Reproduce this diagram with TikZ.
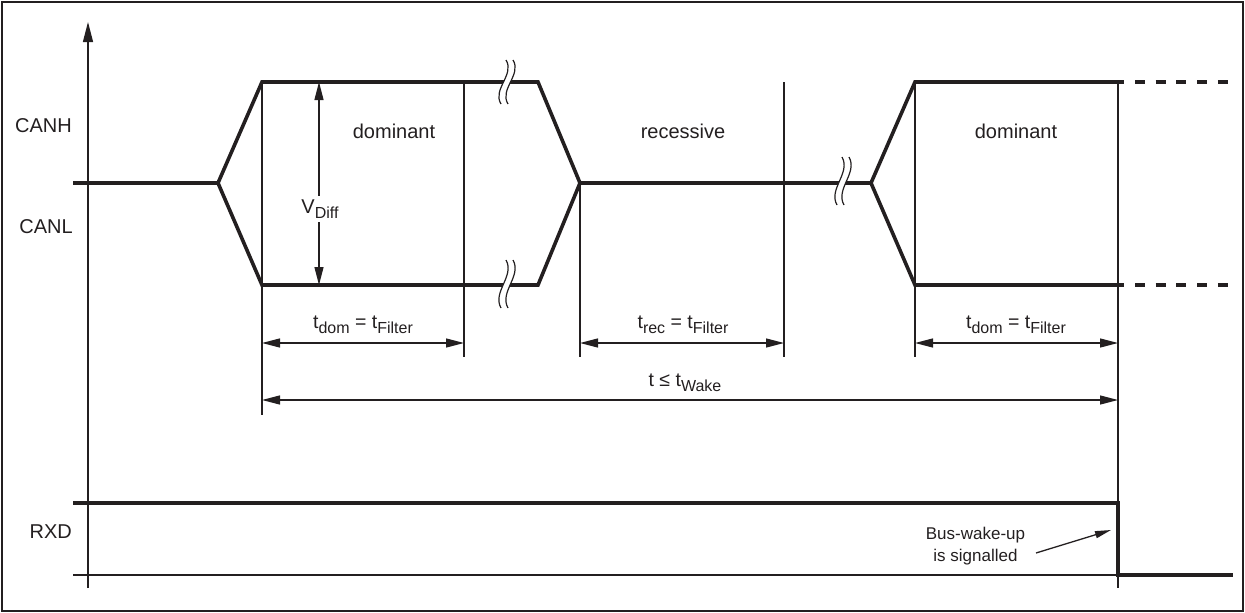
\documentclass[tikz,border=0pt]{standalone}
\usepackage{fontspec}
\setmainfont{Liberation Sans}
\usetikzlibrary{arrows.meta}
\definecolor{ink}{RGB}{35,31,32}
\newcommand\sbs[1]{\raisebox{-0.45ex}{\fontsize{16}{16}\selectfont #1}}
\newcommand\brkmark[3]{%
  \fill[white] ({#1-1},{#2-#3}) .. controls ({#1+8},{#2-#3/3}) and ({#1-15},{#2+#3/3}) .. ({#1-6},{#2+#3})
     -- ({#1+1},{#2+#3}) .. controls ({#1-8},{#2+#3/3}) and ({#1+15},{#2-#3/3}) .. ({#1+6},{#2-#3}) -- cycle;
  \draw[brk] ({#1-1},{#2-#3}) .. controls ({#1+8},{#2-#3/3}) and ({#1-15},{#2+#3/3}) .. ({#1-6},{#2+#3});
  \draw[brk] ({#1+6},{#2-#3}) .. controls ({#1+15},{#2-#3/3}) and ({#1-8},{#2+#3/3}) .. ({#1+1},{#2+#3});
}
\begin{document}
\begin{tikzpicture}[x=1pt,y=-1pt,
  sig/.style={line width=3.6pt, line join=miter, color=ink},
  thinln/.style={line width=1.3pt, color=ink},
  brk/.style={line width=1.2pt, color=ink},
  dim/.style={thinln, {Triangle[length=18pt,width=9pt]}-{Triangle[length=18pt,width=9pt]}},
  lbl/.style={font=\fontsize{20}{24}\selectfont, text=ink, inner sep=0pt},
  dlbl/.style={font=\fontsize{19.5}{22}\selectfont, text=ink, inner sep=0pt}]
\useasboundingbox (0,0) rectangle (1245,613);
\draw[line width=2pt, color=ink] (2,2) rectangle (1243,611);

% coordinates
\coordinate (axb) at (88,588);
\coordinate (axt) at (88,22);
\coordinate (s0) at (73,183);
\coordinate (j1) at (218,183);
\coordinate (h1) at (262,82);
\coordinate (l1) at (262,285);
\coordinate (h2) at (538,82);
\coordinate (l2) at (538,285);
\coordinate (j2) at (580,183);
\coordinate (j3) at (871,183);
\coordinate (h3) at (915,82);
\coordinate (l3) at (915,285);
\coordinate (h4) at (1118,82);
\coordinate (l4) at (1118,285);
\coordinate (h5) at (1114.3,82);
\coordinate (l5) at (1114.3,285);
\coordinate (h6) at (1228,82);
\coordinate (l6) at (1228,285);

% vertical guide lines
\coordinate (v1b) at (262,415);
\coordinate (v2t) at (464,82);   \coordinate (v2b) at (464,357);
\coordinate (v3b) at (580,357);
\coordinate (v4t) at (784,82);   \coordinate (v4b) at (784,357);
\coordinate (v5b) at (915,357);
\coordinate (v6b) at (1118,588);
\draw[thinln] (h1) -- (v1b);
\draw[thinln] (v2t) -- (v2b);
\draw[thinln] (j2) -- (v3b);
\draw[thinln] (v4t) -- (v4b);
\draw[thinln] (h3) -- (v5b);
\draw[thinln] (h4) -- (v6b);

% axis
\draw[thinln, -{Triangle[length=20pt,width=10pt]}] (axb) -- (axt);

% CAN signals
\draw[sig] (s0) -- (j1) -- (h1) -- (h2) -- (j2) -- (j3) -- (h3) -- (h4);
\draw[sig] (j1) -- (l1) -- (l2) -- (j2);
\draw[sig] (j3) -- (l3) -- (l4);
\draw[sig, dash pattern=on 10pt off 10.7pt] (h5) -- (h6);
\draw[sig, dash pattern=on 10pt off 10.7pt] (l5) -- (l6);

% breaks
\brkmark{507}{82}{22}
\brkmark{507}{284}{24}
\brkmark{843}{181}{24}

% V_Diff
\coordinate (vd1) at (319,82);
\coordinate (vd2) at (319,285);
\draw[dim] (vd1) -- (vd2);
\node[lbl, fill=white, inner sep=4pt] (vdiff) at (320,209) {V\sbs{Diff}};

% dimension arrows
\coordinate (d1a) at (262,343); \coordinate (d1b) at (464,343);
\coordinate (d2a) at (580,343); \coordinate (d2b) at (784,343);
\coordinate (d3a) at (915,343); \coordinate (d3b) at (1118,343);
\coordinate (d4a) at (262,400); \coordinate (d4b) at (1118,400);
\draw[dim] (d1a) -- (d1b);
\draw[dim] (d2a) -- (d2b);
\draw[dim] (d3a) -- (d3b);
\draw[dim] (d4a) -- (d4b);
\node[dlbl] (tdom1) at (363,325) {t\sbs{dom} = t\sbs{Filter}};
\node[dlbl] (trec) at (683,325) {t\sbs{rec} = t\sbs{Filter}};
\node[dlbl] (tdom2) at (1016,325) {t\sbs{dom} = t\sbs{Filter}};
\node[dlbl] (twake) at (685,383) {t ≤ t\sbs{Wake}};

% state labels
\node[lbl] (dom1) at (394,131) {dominant};
\node[lbl] (rec) at (683,131) {recessive};
\node[lbl] (dom2) at (1016,131) {dominant};
\node[lbl, anchor=east] (canh) at (72,126) {CANH};
\node[lbl, anchor=east] (canl) at (73,227) {CANL};
\node[lbl, anchor=east] (rxd) at (72,532) {RXD};

% RXD
\coordinate (r0) at (73,503);
\coordinate (r1) at (1118,503);
\coordinate (r2) at (1118,575);
\coordinate (r3) at (1233,575);
\coordinate (b0) at (73,575);
\draw[thinln] (b0) -- (r2);
\draw[sig] (r0) -- (r1) -- (r2) -- (r3);

% annotation
\node[font=\fontsize{17}{22}\selectfont, text=ink, align=center, inner sep=0pt] (bus) at (975.5,546) {Bus-wake-up\\is signalled};
\coordinate (ba) at (1036,553);
\coordinate (bb) at (1111,530);
\draw[thinln, -{Triangle[length=16pt,width=7pt]}] (ba) -- (bb);
\end{tikzpicture}
\end{document}
